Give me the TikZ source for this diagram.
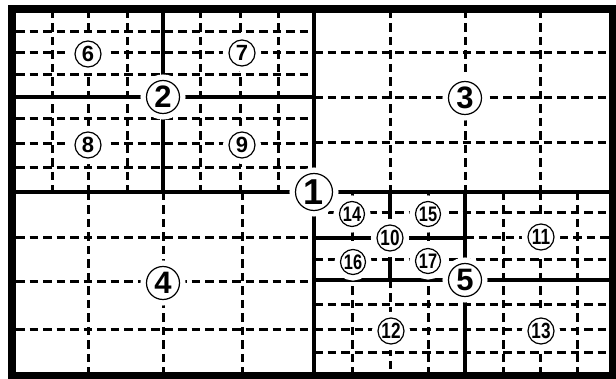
\documentclass[tikz,border=0pt]{standalone}
\usepackage{fontspec}
\usepackage{graphicx}
\usepackage{tikz}
\setmainfont{Liberation Sans}
\newcommand{\numnarrow}[1]{\scalebox{0.78}[1]{#1}}
\tikzset{
  gridline/.style = {
    line width=3pt,
    dash pattern=on 8.5pt off 5pt
  },
  splitline/.style = {
    line width=3.5pt
  },
  frameline/.style = {
    line width=8pt
  },
  numbox/.style = {
    circle,
    draw,
    fill=white,
    line width=1.2pt,
    inner sep=0pt,
    font=\bfseries,
    preaction={draw=white, line width=12pt}
  },
  numtop/.style = {
    numbox,
    minimum size=37pt,
    font=\bfseries\fontsize{36}{36}\selectfont
  },
  numbig/.style = {
    numbox,
    minimum size=33pt,
    font=\bfseries\fontsize{31}{31}\selectfont
  },
  numsmall/.style = {
    numbox,
    minimum size=26pt,
    font=\bfseries\fontsize{22}{22}\selectfont
  },
  numtiny/.style = {
    numbox,
    minimum size=25pt,
    font=\bfseries\fontsize{21}{21}\selectfont
  }
}

\begin{document}
\begin{tikzpicture}[x=1pt,y=-1pt]
    \useasboundingbox (0,0) rectangle (616,379);
    % dashed grid of block 2 and block 3
    \foreach \gx in {52,88,127,200,240,278}
      \draw[gridline] (\gx,10) -- (\gx,192);
    \foreach \gy in {32,53,75,119,144,168}
      \draw[gridline] (16,\gy) -- (314,\gy);
    \foreach \gx in {390,465,540}
      \draw[gridline] (\gx,10) -- (\gx,192);
    \foreach \gy in {53,98,143}
      \draw[gridline] (314,\gy) -- (610,\gy);
    % dashed grid of block 4 and block 5
    \foreach \gx in {88,163,242}
      \draw[gridline] (\gx,192) -- (\gx,373);
    \foreach \gy in {238,282,330}
      \draw[gridline] (16,\gy) -- (314,\gy);
    \foreach \gx in {352,428,503,540,577}
      \draw[gridline] (\gx,192) -- (\gx,373);
    \foreach \gy in {213,260,305,330,353}
      \draw[gridline] (314,\gy) -- (610,\gy);
    \draw[gridline] (390,280) -- (390,373);
    \draw[gridline] (465,238) -- (610,238);
    % solid splits
    \draw[splitline] (314,10) -- (314,373);
    \draw[splitline] (16,192) -- (610,192);
    \draw[splitline] (163,10) -- (163,192);
    \draw[splitline] (16,97) -- (314,97);
    \draw[splitline] (465,192) -- (465,373);
    \draw[splitline] (314,280) -- (610,280);
    \draw[splitline] (390,192) -- (390,280);
    \draw[splitline] (314,238) -- (465,238);
    \draw[frameline] (12,9.5) rectangle (613,376);
    % block numbers
    \node[numtop] (b1) at (314,192) {1};
    \node[numbig] (b2) at (163,97) {2};
    \node[numbig] (b3) at (465,98) {3};
    \node[numbig] (b4) at (163,283) {4};
    \node[numbig] (b5) at (465,280) {5};
    \node[numsmall] (b6) at (88,54) {6};
    \node[numsmall] (b7) at (242,53) {7};
    \node[numsmall] (b8) at (88,145) {8};
    \node[numsmall] (b9) at (242,145) {9};
    \node[numsmall] (b10) at (390,238) {\numnarrow{10}};
    \node[numsmall] (b11) at (541,237) {\numnarrow{11}};
    \node[numsmall] (b12) at (391,331) {\numnarrow{12}};
    \node[numsmall] (b13) at (541,331) {\numnarrow{13}};
    \node[numtiny] (b14) at (352,214) {\numnarrow{14}};
    \node[numtiny] (b15) at (428,214) {\numnarrow{15}};
    \node[numtiny] (b16) at (353,262) {\numnarrow{16}};
    \node[numtiny] (b17) at (428,261) {\numnarrow{17}};
  \end{tikzpicture}
\end{document}
